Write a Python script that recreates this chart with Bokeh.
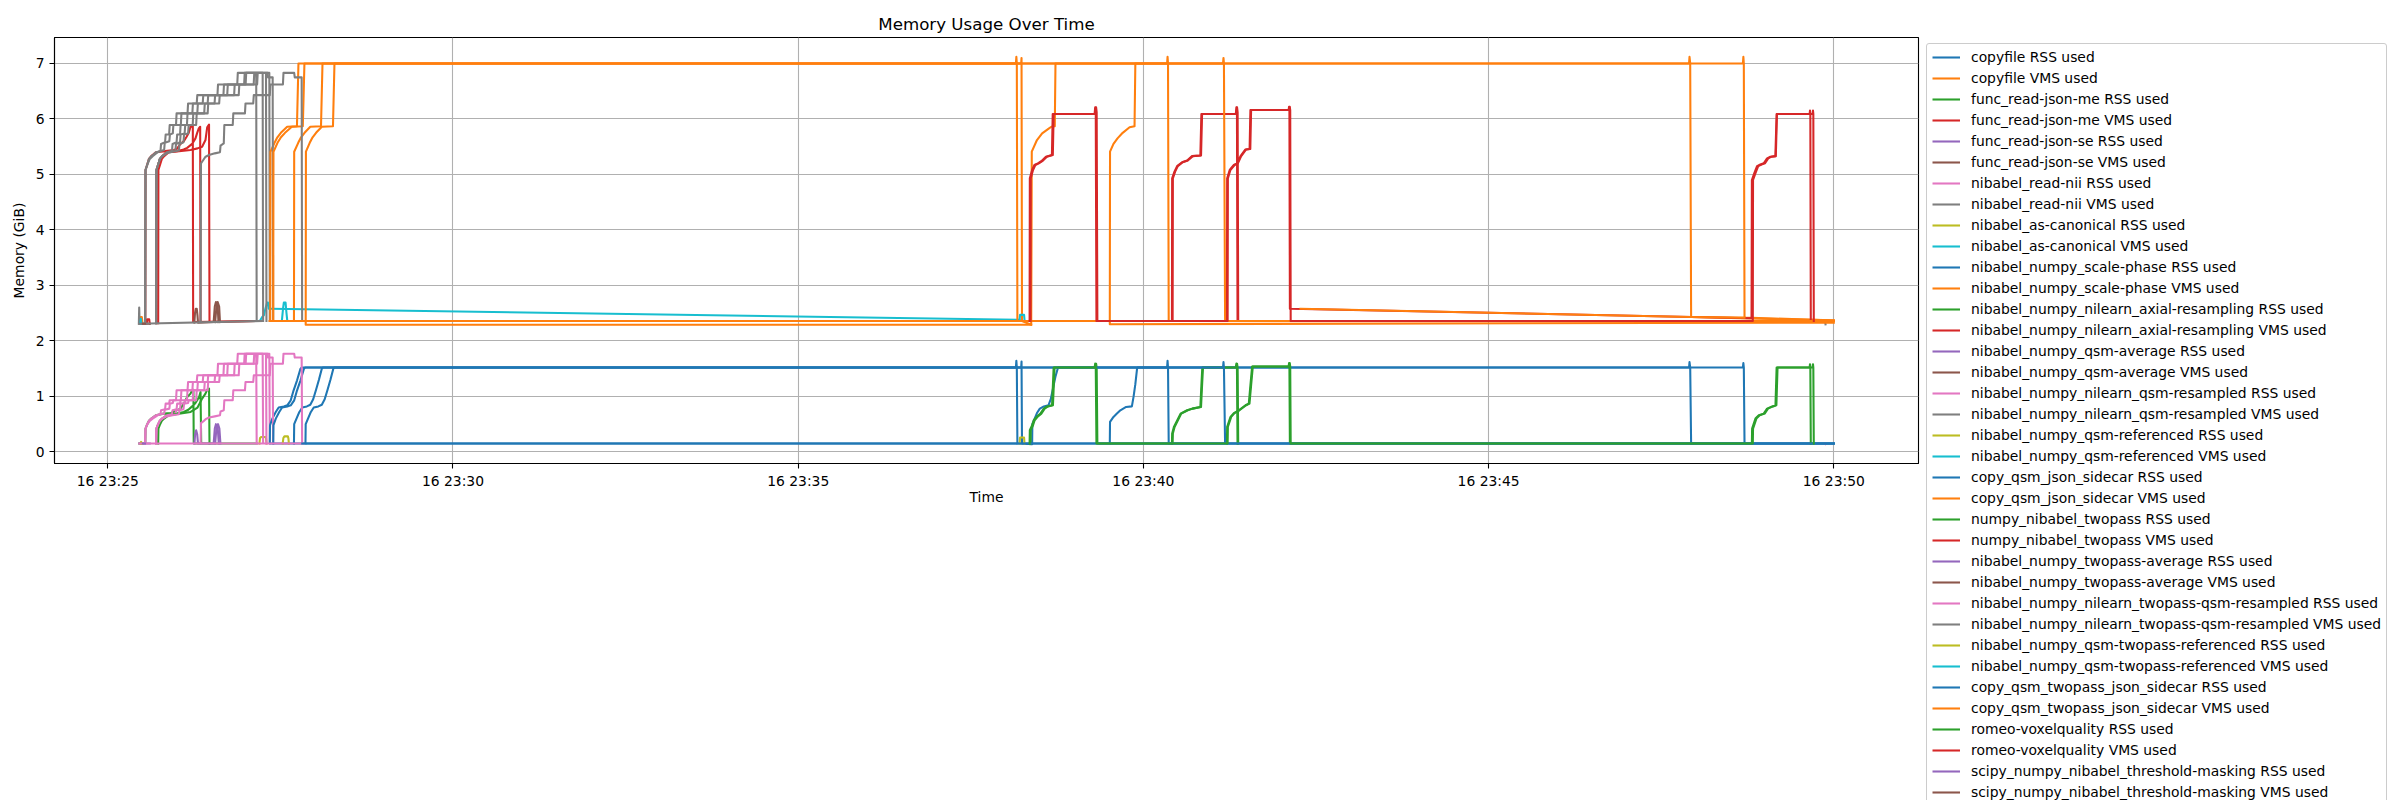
import math
import pandas as pd
from bokeh.plotting import figure
from bokeh.layouts import row
from bokeh.models import Range1d, FixedTicker, DatetimeTickFormatter, Legend, LegendItem
from bokeh.embed import file_html
from bokeh.resources import INLINE

nan = math.nan

# ---------------------------------------------------------------- data
START = "2024-06-16 23:25:00"          # time values below: seconds after this instant
X_START, X_END = -46.3, 1573.6         # visible time window (s)
Y_START, Y_END = -0.209, 7.468
TICK_TIMES = ["23:25", "23:30", "23:35", "23:40", "23:45", "23:50"]
Y_TICKS = [0, 1, 2, 3, 4, 5, 6, 7]

LABELS = [
    "copyfile RSS used", "copyfile VMS used",
    "func_read-json-me RSS used", "func_read-json-me VMS used",
    "func_read-json-se RSS used", "func_read-json-se VMS used",
    "nibabel_read-nii RSS used", "nibabel_read-nii VMS used",
    "nibabel_as-canonical RSS used", "nibabel_as-canonical VMS used",
    "nibabel_numpy_scale-phase RSS used", "nibabel_numpy_scale-phase VMS used",
    "nibabel_numpy_nilearn_axial-resampling RSS used", "nibabel_numpy_nilearn_axial-resampling VMS used",
    "nibabel_numpy_qsm-average RSS used", "nibabel_numpy_qsm-average VMS used",
    "nibabel_numpy_nilearn_qsm-resampled RSS used", "nibabel_numpy_nilearn_qsm-resampled VMS used",
    "nibabel_numpy_qsm-referenced RSS used", "nibabel_numpy_qsm-referenced VMS used",
    "copy_qsm_json_sidecar RSS used", "copy_qsm_json_sidecar VMS used",
    "numpy_nibabel_twopass RSS used", "numpy_nibabel_twopass VMS used",
    "nibabel_numpy_twopass-average RSS used", "nibabel_numpy_twopass-average VMS used",
    "nibabel_numpy_nilearn_twopass-qsm-resampled RSS used", "nibabel_numpy_nilearn_twopass-qsm-resampled VMS used",
    "nibabel_numpy_qsm-twopass-referenced RSS used", "nibabel_numpy_qsm-twopass-referenced VMS used",
    "copy_qsm_twopass_json_sidecar RSS used", "copy_qsm_twopass_json_sidecar VMS used",
    "romeo-voxelquality RSS used", "romeo-voxelquality VMS used",
    "scipy_numpy_nibabel_threshold-masking RSS used", "scipy_numpy_nibabel_threshold-masking VMS used",
]

# 0 copyfile RSS
copyfile_rss_t = [27.5, 31.0, nan,
                  161.8, 162.0, 164.0, 166.5, 169.0, 173.0, 176.0, 178.5, 181.0, 183.5, 186.0, 187.0,
                  920.6, 921.0, 921.4, 922.0, 1500.0]
copyfile_rss_v = [0.15, 0.15, nan,
                  0.15, 0.50, 0.60, 0.72, 0.80, 0.82, 0.85, 0.95, 1.12, 1.30, 1.50, 1.52,
                  1.52, 1.64, 1.52, 0.15, 0.15]
# 1 copyfile VMS
copyfile_vms_t = [28.0, 28.6, 29.6, 30.2, nan,
                  161.8, 162.0, 165.5, 168.0, 171.0, 176.0, 185.3, 186.6, 920.6, 921.0, 921.4, 922.0, 1500.0]
copyfile_vms_v = [2.31, 2.43, 2.43, 2.31, nan,
                  2.36, 5.41, 5.57, 5.67, 5.75, 5.86, 5.87, 7.00, 7.00, 7.12, 7.00, 2.36, 2.36]
# 2 func_read-json-me RSS
json_me_rss_t = [27.5, 32.6, 32.8, 34.3, 35.8, 37.8, 41.8, 48.7, 55.0, 63.2, 66.1, 69.0, 71.9, 73.3, 74.4, 74.7, 129.5, nan,
                 42.1, 42.3, 43.8, 45.3, 47.3, 51.3, 60.0, 66.0, 70.0, 73.3, 76.2, 77.7, 79.5, 80.6, 81.2]
json_me_rss_v = [0.15, 0.15, 0.42, 0.50, 0.56, 0.60, 0.66, 0.69, 0.70, 0.78, 0.87, 0.99, 1.05, 1.11, 1.12, 0.15, 0.15, nan,
                 0.15, 0.42, 0.50, 0.56, 0.60, 0.66, 0.69, 0.72, 0.76, 0.82, 0.88, 0.93, 1.00, 1.08, 0.15]
# 3 func_read-json-me VMS
json_me_vms_t = [27.5, 33.8, 34.4, 36.0, 36.5, nan,
                 32.6, 32.8, 34.3, 35.8, 37.8, 41.8, 50.0, 57.4, 60.0, 63.2, 66.1, 68.5, 70.4, 71.9, 73.9, 74.2, 129.5, nan,
                 42.1, 42.3, 43.8, 45.3, 47.3, 51.3, 60.0, 66.0, 69.0, 73.3, 76.2, 77.7, 79.1, 80.3, 80.6, 130.0]
json_me_vms_v = [2.31, 2.31, 2.39, 2.39, 2.31, nan,
                 2.31, 5.08, 5.18, 5.28, 5.33, 5.40, 5.42, 5.44, 5.46, 5.55, 5.60, 5.68, 5.75, 5.86, 5.87, 2.34, 2.36, nan,
                 2.32, 5.08, 5.18, 5.28, 5.33, 5.40, 5.42, 5.45, 5.48, 5.55, 5.65, 5.75, 5.83, 5.86, 2.34, 2.36]
# 4 / 5 func_read-json-se
json_se_rss_t = [33.5, 36.5]
json_se_rss_v = [0.15, 0.15]
json_se_vms_t = [33.5, 36.5]
json_se_vms_v = [2.31, 2.31]
# 6 nibabel_read-nii RSS
read_nii_rss_t = [27.5, 32.5, 32.8, 34.3, 35.8, 37.8, 39.8, 41.8, 45.8, 46.3, 49.8, 50.3, 53.3, 53.8, 59.3, 59.8,
                  69.3, 69.8, 77.3, 77.8, 95.3, 95.8, 112.5, 113.0, 129.0, 129.4, nan,
                  42.0, 42.3, 43.8, 45.3, 47.3, 50.3, 53.3, 58.8, 59.3, 62.8, 63.3, 66.8, 67.3, 73.8, 74.3,
                  83.8, 84.3, 92.8, 93.3, 109.8, 110.3, 126.8, 127.3, 140.4, 140.8, nan,
                  1492.4, 1492.8]
read_nii_rss_v = [0.15, 0.15, 0.42, 0.50, 0.56, 0.60, 0.63, 0.66, 0.68, 0.75, 0.77, 0.87, 0.87, 0.93, 0.93, 1.11,
                  1.11, 1.26, 1.26, 1.38, 1.38, 1.59, 1.59, 1.77, 1.77, 0.15, nan,
                  0.15, 0.42, 0.50, 0.56, 0.60, 0.64, 0.66, 0.68, 0.75, 0.77, 0.87, 0.88, 0.93, 0.93, 1.11,
                  1.11, 1.26, 1.26, 1.38, 1.38, 1.59, 1.59, 1.77, 1.77, 0.15, nan,
                  0.15, 0.14]
# 7 nibabel_read-nii VMS
read_nii_vms_t = [27.0, 27.3, 27.7, 32.5, 32.8, 34.3, 35.8, 37.8, 39.8, 41.8, 45.8, 46.3, 49.8, 50.3, 53.3, 53.8,
                  59.3, 59.8, 69.3, 69.8, 77.3, 77.8, 95.3, 95.8, 112.5, 113.0, 129.0, 129.4, nan,
                  42.0, 42.3, 43.8, 45.3, 47.3, 50.3, 53.3, 58.8, 59.3, 62.8, 63.3, 66.8, 67.3, 73.8, 74.3,
                  83.8, 84.3, 92.8, 93.3, 109.8, 110.3, 126.8, 127.3, 140.4, 140.8, nan,
                  1492.4, 1492.8]
read_nii_vms_v = [2.31, 2.60, 2.31, 2.31, 5.08, 5.18, 5.28, 5.33, 5.36, 5.40, 5.42, 5.55, 5.58, 5.72, 5.72, 5.89,
                  5.89, 6.10, 6.10, 6.28, 6.28, 6.43, 6.43, 6.62, 6.62, 6.83, 6.83, 2.36, nan,
                  2.32, 5.08, 5.18, 5.28, 5.33, 5.38, 5.41, 5.43, 5.55, 5.58, 5.72, 5.74, 5.89, 5.89, 6.10,
                  6.10, 6.28, 6.28, 6.43, 6.43, 6.62, 6.62, 6.83, 6.83, 2.36, nan,
                  2.36, 2.30]
# 8 / 9 nibabel_as-canonical
canonical_rss_t = [28.5, 29.0, 29.6, nan, 131.8, 132.3, 133.5, 137.0, 137.6, 138.0]
canonical_rss_v = [0.15, 0.18, 0.15, nan, 0.15, 0.25, 0.27, 0.27, 0.24, 0.15]
canonical_vms_t = [28.2, 28.8, 29.2, nan, 131.5, 132.1, 134.2, 135.6, 137.0, 138.5, 139.2, 139.9, 141.5, 792.4]
canonical_vms_v = [2.31, 2.40, 2.31, nan, 2.36, 2.36, 2.43, 2.46, 2.58, 2.69, 2.69, 2.58, 2.58, 2.38]
# 10 scale-phase RSS
scale_rss_t = [1500.0, 140.8, 141.0, 143.0, 146.0, 148.5, 153.0, 156.0, 159.0, 161.5, 164.5, 167.5, 168.5,
               789.2, 789.6, 790.0, 790.5, nan,
               870.8, 871.0, 874.0, 877.0, 880.0, 885.0, 890.0, 891.5, 893.0, 894.5, 895.0,
               1421.0, 1421.4, 1421.8, 1422.4, 1500.0]
scale_rss_v = [0.15, 0.15, 0.48, 0.60, 0.72, 0.80, 0.82, 0.84, 0.93, 1.11, 1.29, 1.50, 1.52,
               1.52, 1.64, 1.52, 0.15, nan,
               0.15, 0.54, 0.63, 0.69, 0.75, 0.81, 0.82, 1.00, 1.22, 1.50, 1.52,
               1.52, 1.60, 1.52, 0.15, 0.15]
# 11 scale-phase VMS
scale_vms_t = [1500.0, 141.2, 141.4, 144.9, 147.4, 150.4, 155.9, 164.4, 165.7, 789.2, 789.6, 790.0, 790.5, nan,
               1500.0, 870.8, 871.0, 874.0, 877.5, 882.0, 888.0, 892.3, 893.0, 1421.0, 1421.4, 1421.8, 1422.4, 1500.0]
scale_vms_v = [2.36, 2.36, 5.41, 5.57, 5.67, 5.75, 5.86, 5.87, 7.00, 7.00, 7.12, 7.00, 2.36, nan,
               2.33, 2.30, 5.41, 5.55, 5.65, 5.75, 5.85, 5.87, 7.00, 7.00, 7.12, 7.00, 2.42, 2.37]
# 12 axial-resampling RSS
axial_rss_t = [43.8, 44.0, 45.5, 47.0, 49.0, 53.0, 62.0, 72.0, 78.0, 82.0, 84.9, 86.4, 88.0, 88.4, nan,
               924.8, 925.0, 926.5, 932.3, 938.0, 942.3, 949.5, 950.4, 951.2, 980.3, 980.8, 981.3, 981.8]
axial_rss_v = [0.15, 0.42, 0.50, 0.56, 0.60, 0.66, 0.69, 0.72, 0.80, 0.96, 1.05, 1.12, 1.14, 0.15, nan,
               0.15, 0.33, 0.45, 0.69, 0.75, 0.78, 0.81, 1.20, 1.52, 1.52, 1.59, 1.52, 0.15]
# 13 axial-resampling VMS
axial_vms_t = [43.8, 44.0, 45.5, 47.0, 49.0, 53.0, 62.0, 72.0, 78.0, 82.0, 84.9, 86.4, 88.0, 88.4, 131.0, nan,
               924.8, 925.0, 927.0, 929.3, 933.6, 938.0, 942.3, 949.5, 950.4, 980.3, 980.8, 981.3, 981.8]
axial_vms_v = [2.32, 5.08, 5.18, 5.28, 5.33, 5.40, 5.42, 5.44, 5.47, 5.50, 5.62, 5.85, 5.90, 2.34, 2.36, nan,
               2.36, 4.93, 5.05, 5.15, 5.22, 5.25, 5.33, 5.34, 6.09, 6.09, 6.21, 6.12, 2.36]
# 14 / 15 qsm-average
qsm_avg_rss_t = [75.3, 75.9, 76.8, 77.7, 78.4, 92.0, 93.0, 94.0, 95.5, 96.5]
qsm_avg_rss_v = [0.15, 0.32, 0.39, 0.32, 0.15, 0.15, 0.42, 0.50, 0.44, 0.15]
qsm_avg_vms_t = [75.2, 75.8, 76.5, 77.3, 78.0, 78.4, 92.0, 93.0, 94.0, 95.5, 96.2]
qsm_avg_vms_v = [2.33, 2.50, 2.58, 2.58, 2.45, 2.33, 2.34, 2.62, 2.70, 2.62, 2.34]
# 16 nilearn_qsm-resampled RSS
qsm_res_rss_t = [32.5, 32.8, 34.5, 36.5, 39.0, 42.0, 45.0, 49.0, 49.5, 53.5, 54.0, 56.5, 57.0, 63.5, 64.0,
                 73.5, 74.0, 82.5, 83.0, 100.5, 101.0, 118.5, 119.0, 137.5, 137.9, nan,
                 42.0, 42.3, 43.8, 45.3, 47.3, 51.3, 56.3, 61.8, 62.3, 65.8, 66.3, 69.8, 70.3, 76.8, 77.3,
                 86.8, 87.3, 96.8, 97.3, 113.8, 114.3, 129.8, 130.3, 138.8, 139.3, 143.3, 143.7]
qsm_res_rss_v = [0.15, 0.42, 0.50, 0.56, 0.60, 0.64, 0.68, 0.69, 0.76, 0.78, 0.87, 0.88, 0.93, 0.93, 1.11,
                 1.11, 1.26, 1.26, 1.38, 1.38, 1.59, 1.59, 1.77, 1.77, 0.15, nan,
                 0.15, 0.42, 0.50, 0.56, 0.60, 0.64, 0.66, 0.68, 0.75, 0.77, 0.87, 0.88, 0.93, 0.93, 1.11,
                 1.11, 1.26, 1.26, 1.38, 1.38, 1.59, 1.59, 1.77, 1.77, 1.70, 1.70, 0.15]
# 17 nilearn_qsm-resampled VMS
qsm_res_vms_t = [32.5, 32.8, 34.5, 36.5, 39.0, 42.0, 45.0, 49.0, 49.5, 53.5, 54.0, 56.5, 57.0, 63.5, 64.0,
                 73.5, 74.0, 82.5, 83.0, 100.5, 101.0, 118.5, 119.0, 137.5, 137.9, nan,
                 42.0, 42.3, 43.8, 45.3, 47.3, 51.3, 56.3, 61.8, 62.3, 65.8, 66.3, 69.8, 70.3, 76.8, 77.3,
                 86.8, 87.3, 96.8, 97.3, 113.8, 114.3, 129.8, 130.3, 138.8, 139.3, 143.3, 143.7]
qsm_res_vms_v = [2.31, 5.08, 5.18, 5.28, 5.33, 5.38, 5.42, 5.44, 5.57, 5.60, 5.72, 5.74, 5.89, 5.89, 6.10,
                 6.10, 6.28, 6.28, 6.43, 6.43, 6.62, 6.62, 6.83, 6.83, 2.36, nan,
                 2.32, 5.08, 5.18, 5.28, 5.33, 5.38, 5.41, 5.43, 5.55, 5.58, 5.72, 5.74, 5.89, 5.89, 6.10,
                 6.10, 6.28, 6.28, 6.43, 6.43, 6.62, 6.62, 6.83, 6.83, 6.75, 6.75, 2.36]
# 18 / 19 qsm-referenced
qsm_ref_rss_t = [152.0, 152.6, 153.5, 156.5, 157.0, 157.4]
qsm_ref_rss_v = [0.15, 0.25, 0.28, 0.28, 0.24, 0.15]
qsm_ref_vms_t = [151.3, 152.3, 153.0, 154.5, 155.3, 156.0]
qsm_ref_vms_v = [2.36, 2.58, 2.69, 2.69, 2.50, 2.36]
# 20 copy_qsm_json_sidecar RSS
sidecar_rss_t = [143.8, 144.0, 146.0, 149.0, 151.5, 156.0, 159.0, 162.0, 164.5, 167.5, 170.5, 171.5,
                 793.8, 794.1, 794.5, 802.5, 803.3, 803.5, 805.5, 807.5, 810.0, 813.5, 817.5, 819.5,
                 821.5, 823.5, 825.5, 826.0, 1374.2, 1374.6, 1375.2, 1376.0, 1500.0]
sidecar_rss_v = [0.15, 0.48, 0.60, 0.72, 0.80, 0.82, 0.84, 0.93, 1.11, 1.29, 1.50, 1.52,
                 1.52, 1.63, 0.15, 0.14, 0.14, 0.50, 0.60, 0.70, 0.78, 0.82, 0.84, 0.95,
                 1.15, 1.35, 1.50, 1.52, 1.52, 1.62, 1.52, 0.15, 0.15]
# 21 copy_qsm_json_sidecar VMS
sidecar_vms_t = [143.8, 144.0, 147.5, 150.5, 154.0, 160.0, 169.5, 170.9, 793.8, 794.1, 794.5, 802.5,
                 803.0, 807.5, 812.0, 818.0, 820.0, 823.0, 823.6, 1374.2, 1374.6, 1375.2, 1376.0, 1500.0]
sidecar_vms_v = [2.36, 5.41, 5.57, 5.67, 5.75, 5.86, 5.87, 7.00, 7.00, 7.10, 2.36, 2.29,
                 5.41, 5.62, 5.74, 5.83, 5.86, 5.87, 7.00, 7.00, 7.12, 7.00, 2.43, 2.37]
# 22 numpy_nibabel_twopass RSS
twopass_rss_t = [801.9, 802.1, 804.1, 805.5, 808.4, 811.3, 814.2, 817.1, 821.4, 822.8, 858.4, 858.9, 859.4, 860.0,
                 925.4, 925.6, 927.1, 932.9, 938.6, 942.9, 950.1, 951.0, 951.8, 980.9, 981.4, 981.9, 982.4, nan,
                 972.6, 972.8, 975.7, 978.6, 982.9, 988.7, 991.6, 993.0, 994.5, 1026.2, 1026.6, 1026.9, 1027.3,
                 1428.8, 1429.0, 1431.9, 1434.8, 1439.1, 1442.0, 1446.4, 1449.3, 1450.3, 1479.0, 1479.3, 1479.6, 1480.0]
twopass_rss_v = [0.15, 0.39, 0.48, 0.57, 0.64, 0.69, 0.78, 0.82, 0.84, 1.52, 1.52, 1.59, 1.52, 0.15,
                 0.15, 0.33, 0.45, 0.69, 0.75, 0.78, 0.81, 1.20, 1.52, 1.52, 1.59, 1.52, 0.15, nan,
                 0.15, 0.45, 0.63, 0.70, 0.75, 0.84, 0.87, 1.20, 1.54, 1.54, 1.60, 1.54, 0.15,
                 0.15, 0.42, 0.60, 0.66, 0.69, 0.78, 0.82, 0.84, 1.52, 1.52, 1.58, 1.52, 0.15]
# 23 numpy_nibabel_twopass VMS
twopass_vms_t = [801.9, 802.1, 804.1, 806.1, 809.1, 812.1, 816.1, 821.3, 822.0, 858.4, 858.9, 859.4, 860.0,
                 925.4, 925.6, 927.6, 929.9, 934.2, 938.6, 942.9, 950.1, 951.0, 980.9, 981.4, 981.9, 982.4, nan,
                 972.6, 972.8, 975.0, 978.6, 981.5, 984.4, 988.7, 992.3, 993.0, 1026.2, 1026.6, 1026.9, 1027.3,
                 1428.5, 1428.8, 1431.0, 1433.3, 1436.2, 1439.1, 1442.0, 1444.9, 1449.2, 1450.3,
                 1479.0, 1479.3, 1479.6, 1480.0, 1482.0]
twopass_vms_v = [2.36, 4.93, 5.08, 5.17, 5.20, 5.24, 5.32, 5.35, 6.09, 6.09, 6.21, 6.12, 2.36,
                 2.36, 4.93, 5.05, 5.15, 5.22, 5.25, 5.33, 5.34, 6.09, 6.09, 6.21, 6.12, 2.36, nan,
                 2.36, 4.93, 5.08, 5.17, 5.20, 5.33, 5.45, 5.46, 6.16, 6.16, 6.22, 6.16, 2.58,
                 2.41, 4.90, 5.03, 5.15, 5.18, 5.20, 5.29, 5.32, 5.33, 6.09,
                 6.09, 6.15, 6.09, 2.36, 2.36]
# 24 / 25 twopass-average
tp_avg_rss_t = [93.3, 94.5, 95.8, 97.0, 97.9]
tp_avg_rss_v = [0.15, 0.44, 0.50, 0.42, 0.15]
tp_avg_vms_t = [93.3, 94.5, 95.5, 96.8, 97.5]
tp_avg_vms_v = [2.34, 2.62, 2.70, 2.62, 2.34]
# 26 nilearn_twopass-qsm-resampled RSS
tp_res_rss_t = [27.5, 170.0, nan,
                42.0, 42.3, 43.8, 45.3, 47.3, 49.3, 51.3, 55.8, 56.3, 59.8, 60.3, 62.8, 63.3, 68.8, 69.3,
                77.8, 78.3, 86.8, 87.3, 103.8, 104.3, 119.8, 120.3, 134.6, 135.0, nan,
                80.7, 81.0, 83.0, 85.0, 88.0, 93.0, 97.5, 98.0, 100.8, 101.3, 108.6, 109.1, 119.2, 119.7,
                126.4, 126.9, 140.8, 141.3, 152.2, 152.7, 162.0, 162.5, 168.5, 168.9]
tp_res_rss_v = [0.15, 0.15, nan,
                0.15, 0.42, 0.50, 0.56, 0.60, 0.63, 0.66, 0.68, 0.75, 0.77, 0.87, 0.87, 0.93, 0.93, 1.11,
                1.11, 1.26, 1.26, 1.38, 1.38, 1.59, 1.59, 1.77, 1.77, 0.15, nan,
                0.15, 0.52, 0.55, 0.59, 0.62, 0.64, 0.66, 0.73, 0.75, 0.93, 0.93, 1.11, 1.11, 1.26,
                1.26, 1.38, 1.38, 1.59, 1.59, 1.77, 1.77, 1.70, 1.70, 0.15]
# 27 nilearn_twopass-qsm-resampled VMS
tp_res_vms_t = [27.5, 135.0, nan,
                42.0, 42.3, 43.8, 45.3, 47.3, 49.3, 51.3, 55.8, 56.3, 59.8, 60.3, 62.8, 63.3, 68.8, 69.3,
                77.8, 78.3, 86.8, 87.3, 103.8, 104.3, 119.8, 120.3, 134.6, 135.0, nan,
                80.7, 81.0, 83.0, 85.0, 88.0, 93.0, 97.5, 98.0, 100.8, 101.3, 108.6, 109.1, 119.2, 119.7,
                126.4, 126.9, 140.8, 141.3, 152.2, 152.7, 162.0, 162.5, 168.5, 168.9]
tp_res_vms_v = [2.31, 2.36, nan,
                2.32, 5.08, 5.18, 5.28, 5.33, 5.36, 5.40, 5.42, 5.55, 5.58, 5.72, 5.72, 5.89, 5.89, 6.10,
                6.10, 6.28, 6.28, 6.43, 6.43, 6.62, 6.62, 6.83, 6.83, 2.36, nan,
                2.34, 5.20, 5.26, 5.32, 5.35, 5.38, 5.40, 5.52, 5.56, 5.89, 5.89, 6.10, 6.10, 6.28,
                6.28, 6.43, 6.43, 6.62, 6.62, 6.83, 6.83, 6.75, 6.75, 2.36]
# 28 / 29 qsm-twopass-referenced
tp_ref_rss_t = [792.4, 792.8, 796.3, 796.7]
tp_ref_rss_v = [0.15, 0.26, 0.26, 0.15]
tp_ref_vms_t = [792.4, 792.8, 796.3, 796.7]
tp_ref_vms_v = [2.38, 2.47, 2.47, 2.37]
# 30 copy_qsm_twopass_json_sidecar RSS
tp_sidecar_rss_t = [169.0, 971.0, nan,
                    171.8, 172.0, 174.0, 176.5, 179.0, 183.0, 186.0, 188.5, 191.0, 193.5, 196.0, 197.0,
                    969.2, 969.6, 970.0, 971.0, 1500.0]
tp_sidecar_rss_v = [0.15, 0.15, nan,
                    0.15, 0.50, 0.60, 0.72, 0.80, 0.82, 0.85, 0.95, 1.12, 1.30, 1.50, 1.52,
                    1.52, 1.62, 1.52, 0.15, 0.15]
# 31 copy_qsm_twopass_json_sidecar VMS
tp_sidecar_vms_t = [140.6, 801.0, nan,
                    802.5, 172.0, 172.2, 175.5, 178.0, 181.0, 186.0, 195.7, 197.0, 969.2, 969.6, 970.0, 971.0, 1500.0, nan,
                    1036.5, 1376.0, 1422.4]
tp_sidecar_vms_v = [2.36, 2.36, nan,
                    2.29, 2.29, 5.41, 5.57, 5.67, 5.75, 5.86, 5.87, 7.00, 7.00, 7.10, 7.00, 2.36, 2.36, nan,
                    2.58, 2.43, 2.42]
# 32 romeo-voxelquality RSS
romeo_rss_t = [801.1, 801.3, 803.3, 804.7, 807.6, 810.5, 813.4, 816.3, 820.6, 822.0, 857.6, 858.1, 858.6, 859.2,
               973.2, 973.4, 976.3, 979.2, 983.5, 989.3, 992.2, 993.6, 995.1, 1026.8, 1027.2, 1027.6, 1028.0,
               1429.6, 1429.8, 1432.7, 1435.6, 1439.9, 1442.8, 1447.2, 1450.1, 1451.1, 1481.6, 1481.9, 1482.2, 1482.6]
romeo_rss_v = [0.15, 0.39, 0.48, 0.57, 0.64, 0.69, 0.78, 0.82, 0.84, 1.52, 1.52, 1.59, 1.52, 0.15,
               0.15, 0.45, 0.63, 0.70, 0.75, 0.84, 0.87, 1.20, 1.54, 1.54, 1.60, 1.54, 0.15,
               0.15, 0.42, 0.60, 0.66, 0.69, 0.78, 0.82, 0.84, 1.52, 1.52, 1.58, 1.52, 0.15]
# 33 romeo-voxelquality VMS
romeo_vms_t = [801.1, 801.3, 803.3, 805.3, 808.3, 811.3, 815.3, 820.5, 821.2, 857.6, 858.1, 858.6, 859.2,
               973.2, 973.4, 975.6, 979.2, 982.1, 985.0, 989.3, 992.9, 993.6, 1026.8, 1027.2, 1027.6, 1028.0,
               1429.6, 1429.8, 1432.0, 1434.3, 1437.2, 1440.1, 1443.0, 1445.9, 1449.6, 1450.6,
               1481.6, 1481.9, 1482.2, 1482.6]
romeo_vms_v = [2.36, 4.93, 5.08, 5.17, 5.20, 5.24, 5.32, 5.35, 6.09, 6.09, 6.21, 6.12, 2.36,
               2.36, 4.93, 5.08, 5.17, 5.20, 5.33, 5.45, 5.46, 6.16, 6.16, 6.22, 6.16, 2.36,
               2.36, 4.90, 5.03, 5.15, 5.18, 5.20, 5.29, 5.32, 5.33, 6.09,
               6.09, 6.15, 6.09, 2.36]
# 34 / 35 threshold-masking
threshold_rss_t = [30.5, 32.3]
threshold_rss_v = [0.15, 0.15]
threshold_vms_t = [30.5, 32.3]
threshold_vms_v = [2.31, 2.31]

SERIES = [
    (copyfile_rss_t, copyfile_rss_v), (copyfile_vms_t, copyfile_vms_v),
    (json_me_rss_t, json_me_rss_v), (json_me_vms_t, json_me_vms_v),
    (json_se_rss_t, json_se_rss_v), (json_se_vms_t, json_se_vms_v),
    (read_nii_rss_t, read_nii_rss_v), (read_nii_vms_t, read_nii_vms_v),
    (canonical_rss_t, canonical_rss_v), (canonical_vms_t, canonical_vms_v),
    (scale_rss_t, scale_rss_v), (scale_vms_t, scale_vms_v),
    (axial_rss_t, axial_rss_v), (axial_vms_t, axial_vms_v),
    (qsm_avg_rss_t, qsm_avg_rss_v), (qsm_avg_vms_t, qsm_avg_vms_v),
    (qsm_res_rss_t, qsm_res_rss_v), (qsm_res_vms_t, qsm_res_vms_v),
    (qsm_ref_rss_t, qsm_ref_rss_v), (qsm_ref_vms_t, qsm_ref_vms_v),
    (sidecar_rss_t, sidecar_rss_v), (sidecar_vms_t, sidecar_vms_v),
    (twopass_rss_t, twopass_rss_v), (twopass_vms_t, twopass_vms_v),
    (tp_avg_rss_t, tp_avg_rss_v), (tp_avg_vms_t, tp_avg_vms_v),
    (tp_res_rss_t, tp_res_rss_v), (tp_res_vms_t, tp_res_vms_v),
    (tp_ref_rss_t, tp_ref_rss_v), (tp_ref_vms_t, tp_ref_vms_v),
    (tp_sidecar_rss_t, tp_sidecar_rss_v), (tp_sidecar_vms_t, tp_sidecar_vms_v),
    (romeo_rss_t, romeo_rss_v), (romeo_vms_t, romeo_vms_v),
    (threshold_rss_t, threshold_rss_v), (threshold_vms_t, threshold_vms_v),
]

# ---------------------------------------------------------------- style
TAB10 = ["#1f77b4", "#ff7f0e", "#2ca02c", "#d62728", "#9467bd",
         "#8c564b", "#e377c2", "#7f7f7f", "#bcbd22", "#17becf"]
FONT = "DejaVu Sans"
FS = "13.89px"
LW = 2.08

base_ms = pd.Timestamp(START).value / 1e6
day = START.split(" ")[0]


def to_ms(ts):
    return [base_ms + s * 1000.0 if s == s else nan for s in ts]


# main plot: frame 1864 x 426 px, starting at (54, 37)
p = figure(width=1920, height=800, x_axis_type="datetime",
           output_backend="svg", toolbar_location=None,
           x_range=Range1d(base_ms + X_START * 1000, base_ms + X_END * 1000),
           y_range=Range1d(Y_START, Y_END),
           min_border_left=54, min_border_right=2, min_border_top=37, min_border_bottom=337,
           title="Memory Usage Over Time")
p.background_fill_color = "white"
p.border_fill_color = "white"

for i, (ts, vs) in enumerate(SERIES):
    p.line(x=to_ms(ts), y=vs, line_color=TAB10[i % 10], line_width=LW,
           line_join="round", line_cap="square")

p.title.align = "center"
p.title.text_font = FONT
p.title.text_font_size = "16.67px"
p.title.text_font_style = "normal"
p.title.text_color = "black"
p.title.standoff = 8

p.xaxis.ticker = FixedTicker(ticks=[pd.Timestamp(f"{day} {t}").value / 1e6 for t in TICK_TIMES])
fmt = "%d %H:%M"
p.xaxis.formatter = DatetimeTickFormatter(seconds=fmt, minsec=fmt, minutes=fmt, hourmin=fmt,
                                          hours=fmt, days=fmt, months=fmt, years=fmt)
p.yaxis.ticker = FixedTicker(ticks=Y_TICKS)
p.xaxis.axis_label = "Time"
p.yaxis.axis_label = "Memory (GiB)"
for ax in (p.xaxis[0], p.yaxis[0]):
    ax.axis_label_text_font = FONT
    ax.axis_label_text_font_size = FS
    ax.axis_label_text_font_style = "normal"
    ax.axis_label_text_color = "black"
    ax.major_label_text_font = FONT
    ax.major_label_text_font_size = FS
    ax.major_label_text_color = "black"
    ax.major_label_standoff = 5
    ax.axis_line_color = "black"
    ax.axis_line_width = 1.1
    ax.major_tick_line_color = "black"
    ax.major_tick_line_width = 1.1
    ax.major_tick_out = 5
    ax.major_tick_in = 0
    ax.minor_tick_line_color = None
p.xaxis[0].major_label_standoff = 4
p.xaxis[0].axis_label_standoff = -3
p.yaxis[0].axis_label_standoff = 6

p.grid.grid_line_color = "#b0b0b0"
p.grid.grid_line_width = 1.1
p.grid.grid_line_alpha = 1.0
p.outline_line_color = "black"
p.outline_line_width = 1.1
p.outline_line_alpha = 1.0

# legend panel to the right of the plot (its box overflows the bottom, as in the original)
q = figure(width=480, height=800, output_backend="svg", toolbar_location=None,
           x_range=Range1d(0, 1), y_range=Range1d(0, 1),
           x_axis_location=None, y_axis_location=None,
           min_border_left=0, min_border_right=0, min_border_top=37, min_border_bottom=337)
q.grid.visible = False
q.outline_line_color = None
q.background_fill_color = "white"
q.border_fill_color = "white"

items = []
for i, label in enumerate(LABELS):
    # swatch-only renderers: their single segment lies outside q's ranges
    r = q.line(x=[5, 6], y=[5, 6], line_color=TAB10[i % 10], line_width=LW)
    items.append(LegendItem(label=label, renderers=[r]))

legend = Legend(items=items, location="top_left", margin=6, padding=5, spacing=5,
                glyph_width=28, glyph_height=14, label_height=14, label_standoff=11,
                label_text_font=FONT, label_text_font_size=FS, label_text_color="black",
                border_line_color="#cccccc", border_line_width=1, border_line_alpha=1.0,
                background_fill_color="white", background_fill_alpha=1.0)
if "border_radius" in Legend.properties():
    legend.border_radius = 3
q.add_layout(legend, "left")

open("out.html", "w").write(file_html(row(p, q), INLINE))
